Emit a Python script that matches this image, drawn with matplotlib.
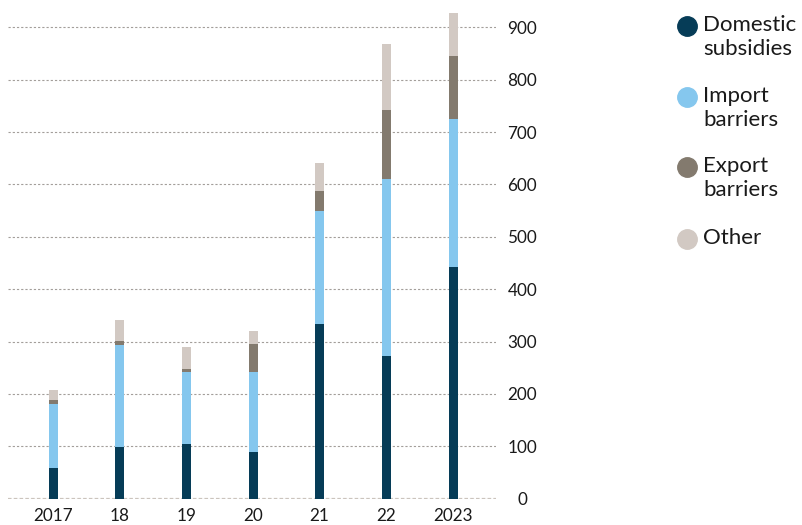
import matplotlib
matplotlib.use("Agg")
import matplotlib.pyplot as plt
import numpy as np

plt.rcParams['font.family'] = ['Lato', 'DejaVu Sans']

years = ['2017', '18', '19', '20', '21', '22', '2023']
domestic = [59, 99, 105, 90, 333, 272, 442]
imports = [121, 195, 136, 151, 216, 338, 283]
exports = [8, 8, 7, 55, 38, 132, 120]
other = [20, 40, 41, 25, 54, 126, 82]

series = [
    ('Domestic\nsubsidies', domestic, '#063c57'),
    ('Import\nbarriers', imports, '#85c7ee'),
    ('Export\nbarriers', exports, '#837a6e'),
    ('Other', other, '#d2c9c3'),
]

fig = plt.figure(figsize=(8.02, 5.25), dpi=100)
ax = fig.add_axes([8 / 802, 26.3 / 525, 488 / 802, 488.7 / 525])

x = np.arange(len(years))
bottom = np.zeros(len(years))
for name, vals, col in series:
    ax.bar(x, vals, width=0.135, bottom=bottom, color=col, zorder=3)
    bottom += np.array(vals)

ax.set_xlim(-0.675, 6.645)
ax.set_ylim(0, 933)
ax.set_yticks(range(0, 1000, 100))
ax.yaxis.tick_right()
ax.tick_params(axis='y', length=0, pad=19, labelsize=12.3, labelcolor='#1a1a1a')
for lab in ax.get_yticklabels():
    lab.set_ha('center')
ax.set_xticks(x)
ax.set_xticklabels(years)
ax.tick_params(axis='x', length=0, pad=7, labelsize=12.3, labelcolor='#1a1a1a')

ax.yaxis.grid(True, color='#a39e9a', linewidth=0.8, linestyle=(0, (2.0, 1.8)), zorder=0)
ax.set_axisbelow(True)
# baseline a bit lighter and thicker
ax.axhline(0, color='#cbc4bd', linewidth=1.6, linestyle=(0, (1.6, 1.0)), zorder=1)
for s in ax.spines.values():
    s.set_visible(False)

# legend drawn by hand on the right
leg_y = [26, 97, 167, 239]
for (name, vals, col), yy in zip(series, leg_y):
    yf = 1 - yy / 525
    fig.add_artist(plt.Line2D([687 / 802], [yf], marker='o', markersize=14,
                              color=col, transform=fig.transFigure))
    fig.text(703 / 802, yf + 11 / 525, name, ha='left', va='top', fontsize=16,
             color='#1a1a1a', linespacing=1.22)

fig.savefig('out.png', dpi=100)
